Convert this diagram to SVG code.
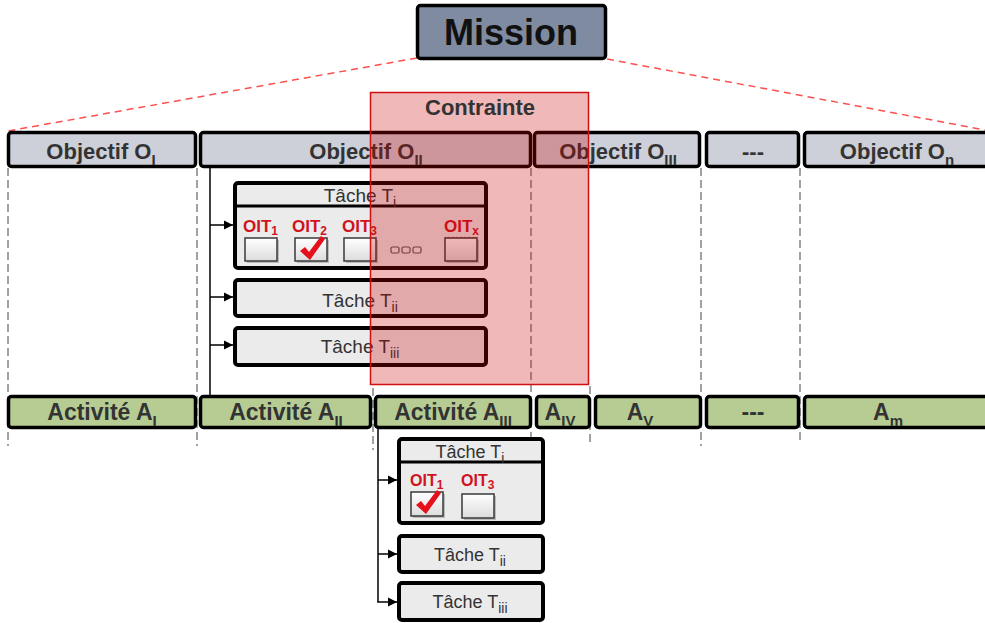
<svg xmlns="http://www.w3.org/2000/svg" width="985" height="623" viewBox="0 0 985 623">
<defs>
<marker id="arr" markerWidth="10" markerHeight="10" refX="9" refY="5" orient="auto" markerUnits="userSpaceOnUse">
<path d="M0,0.5 L9,5 L0,9.5 Z" fill="#000"/>
</marker>
<linearGradient id="cbg" x1="0" y1="0" x2="0" y2="1">
<stop offset="0" stop-color="#ffffff"/>
<stop offset="1" stop-color="#dcdcdc"/>
</linearGradient>
</defs>
<style>
text{font-family:"Liberation Sans",Arial,sans-serif}
.obj{fill:#cdd0d9;stroke:#000;stroke-width:3.5}
.act{fill:#b6cc93;stroke:#000;stroke-width:3.5}
.task{fill:#ebebeb;stroke:#000;stroke-width:4}
.lbl{font-size:22px;font-weight:bold;fill:#333;text-anchor:middle}
.albl{font-size:23px;font-weight:bold;fill:#333;text-anchor:middle}
.sub{font-size:15px}
.tsk{font-size:19px;fill:#333;text-anchor:middle}
.tsk2{font-size:18px;fill:#333;text-anchor:middle}
.tsub{font-size:14px}
.oit{font-size:17px;font-weight:bold;fill:#d0131f}
.oitl{font-size:16px;font-weight:bold;fill:#d0131f}
.osub{font-size:12px}
.div{stroke:#444;stroke-width:1;stroke-dasharray:8,4;fill:none}
.red{stroke:#ff5050;stroke-width:1.5;stroke-dasharray:7,5;fill:none}
.con{stroke:#000;stroke-width:1.5;fill:none}
.cb{fill:url(#cbg);stroke:#3a3a3a;stroke-width:1.5}
.cbs{fill:#9a9a9a;opacity:0.6}
.chk{fill:#e5101c}
</style>

<g id="dividers">
<line class="div" x1="8" y1="168" x2="8" y2="446"/>
<line class="div" x1="197" y1="168" x2="197" y2="446"/>
<line class="div" x1="531" y1="168" x2="531" y2="437"/>
<line class="div" x1="701" y1="168" x2="701" y2="446"/>
<line class="div" x1="800" y1="168" x2="800" y2="443"/>
<line class="div" x1="373" y1="388" x2="373" y2="450"/>
<line class="div" x1="590" y1="386" x2="590" y2="443"/>
</g>

<g id="mission-links">
<line class="red" x1="417" y1="58" x2="8" y2="131"/>
<line class="red" x1="607" y1="59" x2="985" y2="130"/>
</g>

<g id="mission">
<rect x="417.5" y="5.5" width="188" height="53" rx="3" fill="#7f8ba1" stroke="#000" stroke-width="3.5"/>
<text x="511" y="45" font-size="36" font-weight="bold" fill="#111" text-anchor="middle">Mission</text>
</g>

<g id="obj1"><rect class="obj" x="8.5" y="132.5" width="187" height="34" rx="3"/><text class="lbl" x="101" y="159">Objectif O<tspan class="sub" dy="6">I</tspan></text></g>
<g id="obj2"><rect class="obj" x="200.5" y="132.5" width="330" height="34" rx="3"/><text class="lbl" x="366" y="159">Objectif O<tspan class="sub" dy="6">II</tspan></text></g>
<g id="obj3"><rect class="obj" x="534.5" y="132.5" width="165" height="34" rx="3"/><text class="lbl" x="618" y="159">Objectif O<tspan class="sub" dy="6">III</tspan></text></g>
<g id="objdots"><rect class="obj" x="706.5" y="132.5" width="92" height="34" rx="3"/><text class="lbl" x="753" y="159">---</text></g>
<g id="objn"><rect class="obj" x="804.5" y="132.5" width="190" height="34" rx="3"/><text class="lbl" x="897" y="159">Objectif O<tspan class="sub" dy="6">n</tspan></text></g>

<g id="act1"><rect class="act" x="8.5" y="396.5" width="187" height="31" rx="3"/><text class="albl" x="102" y="420">Activité A<tspan class="sub" dy="6">I</tspan></text></g>
<g id="act2"><rect class="act" x="200.5" y="396.5" width="170" height="31" rx="3"/><text class="albl" x="286" y="420">Activité A<tspan class="sub" dy="6">II</tspan></text></g>
<g id="act3"><rect class="act" x="375.5" y="396.5" width="155" height="31" rx="3"/><text class="albl" x="453" y="420">Activité A<tspan class="sub" dy="6">III</tspan></text></g>
<g id="act4"><rect class="act" x="536.5" y="396.5" width="53" height="31" rx="3"/><text class="albl" x="560" y="420">A<tspan class="sub" dy="6">IV</tspan></text></g>
<g id="act5"><rect class="act" x="595.5" y="396.5" width="105" height="31" rx="3"/><text class="albl" x="640" y="420">A<tspan class="sub" dy="6">V</tspan></text></g>
<g id="actdots"><rect class="act" x="706.5" y="396.5" width="92" height="31" rx="3"/><text class="albl" x="753" y="420">---</text></g>
<g id="actm"><rect class="act" x="804.5" y="396.5" width="190" height="31" rx="3"/><text class="albl" x="888" y="420">A<tspan class="sub" dy="6">m</tspan></text></g>

<g id="task-o2-i">
<rect class="task" x="235" y="183" width="251" height="85" rx="3"/>
<line x1="235" y1="206" x2="486" y2="206" stroke="#000" stroke-width="3"/>
<text class="tsk" x="360" y="202">Tâche T<tspan class="tsub" dy="5">i</tspan></text>
<text class="oit" x="243" y="232">OIT<tspan class="osub" dy="3">1</tspan></text>
<text class="oit" x="292" y="232">OIT<tspan class="osub" dy="3">2</tspan></text>
<text class="oit" x="342" y="232">OIT<tspan class="osub" dy="3">3</tspan></text>
<text class="oit" x="444" y="232">OIT<tspan class="osub" dy="3">x</tspan></text>
<path d="M445,237 l2,1.5 l2,-1.5 l2,1.5 l2,-1.5 l2,1.5 l2,-1.5 l2,1.5 l2,-1.5 l2,1.5 l2,-1.5 l2,1.5 l2,-1.5 l2,1.5 l2,-1.5 l2,1.5 l2,-1.5" stroke="#e03030" stroke-width="0.8" fill="none"/>
<rect class="cbs" x="247" y="240" width="32" height="23"/>
<rect class="cb" x="245" y="238" width="32" height="23"/>
<rect class="cbs" x="297" y="240" width="32" height="23"/>
<rect class="cb" x="295" y="238" width="32" height="23"/>
<path class="chk" d="M300,251 L305,247 L309,252 L321,236 L325,239 L310,260 Z"/>
<rect class="cbs" x="346" y="240" width="32" height="23"/>
<rect class="cb" x="344" y="238" width="32" height="23"/>
<rect class="cbs" x="447" y="240" width="32" height="23"/>
<rect class="cb" x="445" y="238" width="32" height="23"/>
<rect x="391" y="247" width="8" height="6" rx="1.5" fill="#eee" stroke="#555" stroke-width="1.2"/>
<rect x="402" y="247" width="8" height="6" rx="1.5" fill="#eee" stroke="#555" stroke-width="1.2"/>
<rect x="413" y="247" width="8" height="6" rx="1.5" fill="#eee" stroke="#555" stroke-width="1.2"/>
</g>
<g id="task-o2-ii"><rect class="task" x="235" y="280" width="251" height="36" rx="3"/><text class="tsk" x="360" y="307">Tâche T<tspan class="tsub" dy="5">ii</tspan></text></g>
<g id="task-o2-iii"><rect class="task" x="235" y="328" width="251" height="37" rx="3"/><text class="tsk" x="360" y="353">Tâche T<tspan class="tsub" dy="5">iii</tspan></text></g>

<g id="task-a3-i">
<rect class="task" x="399" y="439" width="144" height="84" rx="3"/>
<line x1="399" y1="462" x2="543" y2="462" stroke="#000" stroke-width="3"/>
<text class="tsk2" x="470" y="458">Tâche T<tspan class="tsub" dy="5">i</tspan></text>
<text class="oitl" x="410" y="486">OIT<tspan class="osub" dy="3">1</tspan></text>
<text class="oitl" x="461" y="486">OIT<tspan class="osub" dy="3">3</tspan></text>
<rect class="cbs" x="413" y="494" width="32" height="24"/>
<rect class="cb" x="411" y="492" width="32" height="24"/>
<path class="chk" d="M416,505 L421,501 L425,506 L437,490 L441,493 L426,514 Z"/>
<rect class="cbs" x="464" y="496" width="32" height="24"/>
<rect class="cb" x="462" y="494" width="32" height="24"/>
</g>
<g id="task-a3-ii"><rect class="task" x="399" y="536" width="144" height="36" rx="3"/><text class="tsk2" x="470" y="561">Tâche T<tspan class="tsub" dy="5">ii</tspan></text></g>
<g id="task-a3-iii"><rect class="task" x="399" y="583" width="144" height="37" rx="3"/><text class="tsk2" x="470" y="608">Tâche T<tspan class="tsub" dy="5">iii</tspan></text></g>

<g id="connectors">
<line class="con" x1="210" y1="168" x2="210" y2="396"/>
<line class="con" x1="210" y1="225" x2="233" y2="225" marker-end="url(#arr)"/>
<line class="con" x1="210" y1="297" x2="233" y2="297" marker-end="url(#arr)"/>
<line class="con" x1="210" y1="345" x2="233" y2="345" marker-end="url(#arr)"/>
<line class="con" x1="378" y1="428" x2="378" y2="602"/>
<line class="con" x1="378" y1="480" x2="397" y2="480" marker-end="url(#arr)"/>
<line class="con" x1="378" y1="554" x2="397" y2="554" marker-end="url(#arr)"/>
<line class="con" x1="377.25" y1="602" x2="397" y2="602" marker-end="url(#arr)"/>
</g>

<g id="contrainte">
<rect x="370.5" y="92.5" width="218" height="292" fill="rgb(200,0,0)" fill-opacity="0.28" stroke="#d01010" stroke-width="1.5"/>
<text x="480" y="115" font-size="22" font-weight="bold" fill="#333" text-anchor="middle">Contrainte</text>
</g>
</svg>
